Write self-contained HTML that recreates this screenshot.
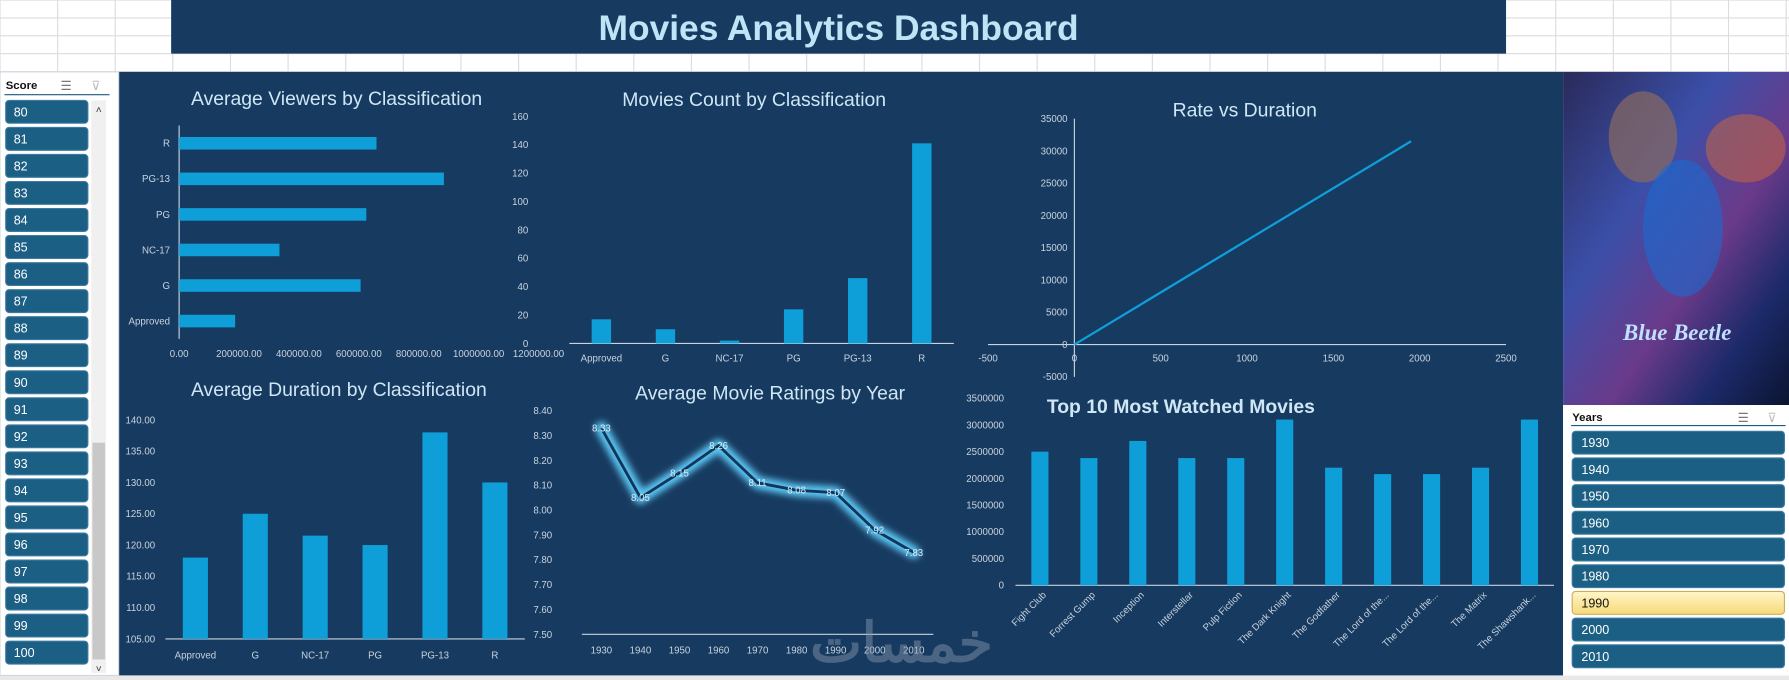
<!DOCTYPE html>
<html><head><meta charset="utf-8"><style>
html,body{margin:0;padding:0;width:1789px;height:680px;overflow:hidden;background:#fff}
svg{display:block;font-family:"Liberation Sans",sans-serif}
</style></head><body>
<svg id="root" width="1789" height="680" viewBox="0 0 1568 596" preserveAspectRatio="none" xmlns="http://www.w3.org/2000/svg">
<defs>
<linearGradient id="poster" x1="0" y1="0" x2="1" y2="1">
<stop offset="0" stop-color="#2a2a5a"/><stop offset="0.35" stop-color="#3b4fa8"/><stop offset="0.6" stop-color="#6a3a8a"/><stop offset="0.8" stop-color="#1c2a6a"/><stop offset="1" stop-color="#0b1430"/></linearGradient>
<linearGradient id="sel" x1="0" y1="0" x2="0" y2="1"><stop offset="0" stop-color="#fff6c8"/><stop offset="1" stop-color="#f7d978"/></linearGradient>
<filter id="glow" x="-20%" y="-20%" width="140%" height="140%"><feGaussianBlur stdDeviation="3"/></filter>
</defs>
<g id="grid"></g>
<rect x="150" y="0" width="1170" height="47" fill="#173a60"/>
<text x="735" y="27" text-anchor="middle" dominant-baseline="middle" font-size="31" font-weight="bold" fill="#bfe4f6">Movies Analytics Dashboard</text>
<rect x="104" y="63" width="1266" height="529" fill="#173a60"/>
<g id="charts"></g>
<text x="790" y="580" text-anchor="middle" font-size="48" font-weight="bold" fill="#8a9bb0" opacity="0.45" font-family="'Liberation Sans','Noto Sans CJK SC',sans-serif">خمسات</text>
<g>
<rect x="1370" y="63" width="198" height="292" fill="url(#poster)"/>
<ellipse cx="1440" cy="120" rx="30" ry="40" fill="#8a6a60" opacity="0.7"/>
<ellipse cx="1475" cy="200" rx="35" ry="60" fill="#1a6ad0" opacity="0.6"/>
<ellipse cx="1530" cy="130" rx="35" ry="30" fill="#d06a3a" opacity="0.5"/>
<text x="1470" y="298" text-anchor="middle" font-size="20" font-style="italic" font-weight="bold" fill="#bfe0ff" font-family="'Liberation Serif',serif">Blue Beetle</text>
</g>
<rect x="0" y="592" width="1568" height="4" fill="#e8e8e8"/>
<g id="slicers"></g>
</svg>
<script>
const NS="http://www.w3.org/2000/svg";
function mk(tag,attrs,parent,text){const e=document.createElementNS(NS,tag);for(const k in attrs)e.setAttribute(k,attrs[k]);if(text!==undefined)e.textContent=text;parent.appendChild(e);return e;}
const grid=document.getElementById('grid');
for(let x=0;x<=1568;x+=50.5){mk('line',{x1:x,y1:0,x2:x,y2:63,stroke:'#dcdcdc'},grid);}
for(let y=0;y<=63;y+=15.7){mk('line',{x1:0,y1:y,x2:1568,y2:y,stroke:'#dcdcdc'},grid);}
const C=document.getElementById('charts');
const AX='#c8d3de', TXT='#c8d3de', BAR='#0f9fd8', TT='#cfe6f5', FS=8.5;
function title(x,y,t,name,bold){const e=mk('text',{x:x,y:y,'text-anchor':'middle','font-size':17,fill:TT,'font-weight':bold?'bold':'normal'},C,t);}

const c1Cats=['Approved','G','NC-17','PG','PG-13','R'];
const c1Vals=[187000,606000,335000,625000,884000,659000];
const c1Ticks=[0,200000,400000,600000,800000,1000000,1200000];
title(295,92,'Average Viewers by Classification','viewers-chart-title');
(function(){const x0=157,x1=472,yT=110,yB=297,max=1200000;const xs=v=>x0+v/max*(x1-x0);const band=(yB-yT)/c1Cats.length;
mk('line',{x1:x0,y1:yT,x2:x0,y2:yB,stroke:AX},C);
c1Cats.forEach((c,i)=>{const yc=yB-band*(i+0.5);const r=mk('rect',{x:x0,y:yc-5.5,width:xs(c1Vals[i])-x0,height:11,fill:BAR},C);

const t=mk('text',{x:x0-8,y:yc+3,'text-anchor':'end','font-size':FS,fill:TXT},C,c);});
c1Ticks.forEach(v=>{const t=mk('text',{x:xs(v),y:313,'text-anchor':'middle','font-size':FS,fill:TXT},C,v.toFixed(2));});})();

const c2Cats=['Approved','G','NC-17','PG','PG-13','R'];
const c2Vals=[17,10,2,24,46,141];
const c2Ticks=[0,20,40,60,80,100,120,140,160];
title(661,93,'Movies Count by Classification','count-chart-title');
(function(){const x0=499,x1=836,yB=301,yT=102,max=160;const ys=v=>yB-v/max*(yB-yT);const band=(x1-x0)/c2Cats.length;
mk('line',{x1:x0,y1:yB,x2:x1,y2:yB,stroke:AX},C);
c2Ticks.forEach(v=>{const t=mk('text',{x:463,y:ys(v)+3,'text-anchor':'end','font-size':FS,fill:TXT},C,v);});
c2Cats.forEach((c,i)=>{const xc=x0+band*(i+0.5);const r=mk('rect',{x:xc-8.5,y:ys(c2Vals[i]),width:17,height:yB-ys(c2Vals[i]),fill:BAR},C);

const t=mk('text',{x:xc,y:317,'text-anchor':'middle','font-size':FS,fill:TXT},C,c);});})();

const c3X=[0,1950];
const c3Y=[0,31500];
const c3YTicks=[-5000,0,5000,10000,15000,20000,25000,30000,35000];
const c3XTicks=[-500,0,500,1000,1500,2000,2500];
title(1091,102,'Rate vs Duration','rate-chart-title');
(function(){const x0=866,x1=1320,xmin=-500,xmax=2500,y0=302,y35=104;const xs=v=>x0+(v-xmin)/(xmax-xmin)*(x1-x0);const ys=v=>y0-v/35000*(y0-y35);
mk('line',{x1:x0,y1:ys(0),x2:x1,y2:ys(0),stroke:AX},C);mk('line',{x1:xs(0),y1:ys(35000),x2:xs(0),y2:ys(-5000),stroke:AX},C);
c3YTicks.forEach(v=>{const t=mk('text',{x:xs(0)-6,y:ys(v)+3,'text-anchor':'end','font-size':FS,fill:TXT},C,v);});
c3XTicks.forEach(v=>{const t=mk('text',{x:xs(v),y:317,'text-anchor':'middle','font-size':FS,fill:TXT},C,v);});
const p=mk('polyline',{points:c3X.map((x,i)=>xs(x)+','+ys(c3Y[i])).join(' '),fill:'none',stroke:BAR,'stroke-width':2},C);})();

const c4Cats=['Approved','G','NC-17','PG','PG-13','R'];
const c4Vals=[118,125,121.5,120,138,130];
const c4Ticks=[105,110,115,120,125,130,135,140];
title(297,347,'Average Duration by Classification','duration-chart-title');
(function(){const x0=145,x1=460,yB=560,yT=368;const ys=v=>yB-(v-105)/35*(yB-yT);const band=(x1-x0)/c4Cats.length;
mk('line',{x1:x0,y1:yB,x2:x1,y2:yB,stroke:AX},C);
c4Ticks.forEach(v=>{const t=mk('text',{x:136,y:ys(v)+3,'text-anchor':'end','font-size':FS,fill:TXT},C,v.toFixed(2));});
c4Cats.forEach((c,i)=>{const xc=x0+band*(i+0.5);const r=mk('rect',{x:xc-11,y:ys(c4Vals[i]),width:22,height:yB-ys(c4Vals[i]),fill:BAR},C);

const t=mk('text',{x:xc,y:577,'text-anchor':'middle','font-size':FS,fill:TXT},C,c);});})();

const c5Years=[1930,1940,1950,1960,1970,1980,1990,2000,2010];
const c5Vals=[8.33,8.05,8.15,8.26,8.11,8.08,8.07,7.92,7.83];
const c5Ticks=[7.5,7.6,7.7,7.8,7.9,8.0,8.1,8.2,8.3,8.4];
title(675,350,'Average Movie Ratings by Year','ratings-chart-title');
(function(){const x0=510,x1=818,yB=556,yT=360;const ys=v=>yB-(v-7.5)/0.9*(yB-yT);const band=(x1-x0)/c5Years.length;const xs=i=>x0+band*(i+0.5);
mk('line',{x1:x0,y1:yB,x2:x1,y2:yB,stroke:AX},C);
c5Ticks.forEach(v=>{const t=mk('text',{x:484,y:ys(v)+3,'text-anchor':'end','font-size':FS,fill:TXT},C,v.toFixed(2));});
c5Years.forEach((y,i)=>{const t=mk('text',{x:xs(i),y:573,'text-anchor':'middle','font-size':FS,fill:TXT},C,y);});
const pts=c5Vals.map((v,i)=>xs(i)+','+ys(v)).join(' ');
mk('polyline',{points:pts,fill:'none',stroke:'#5cc8f5','stroke-width':11,'stroke-linejoin':'round','stroke-linecap':'round',filter:'url(#glow)',opacity:1},C);
const p=mk('polyline',{points:pts,fill:'none',stroke:'#12365a','stroke-width':2.5,'stroke-linejoin':'round'},C);
c5Vals.forEach((v,i)=>{const t=mk('text',{x:xs(i),y:ys(v)+3,'text-anchor':'middle','font-size':FS,fill:'#d8ecf8'},C,v.toFixed(2));});})();

const c6Cats=['Fight Club','Forrest Gump','Inception','Interstellar','Pulp Fiction','The Dark Knight','The Godfather','The Lord of the...','The Lord of the...','The Matrix','The Shawshank...'];
const c6Vals=[2500000,2380000,2700000,2380000,2380000,3100000,2200000,2080000,2080000,2200000,3100000];
const c6Ticks=[0,500000,1000000,1500000,2000000,2500000,3000000,3500000];
title(1035,362,'Top 10 Most Watched Movies','top10-chart-title',true);
(function(){const x0=890,x1=1362,yB=513,yT=349;const ys=v=>yB-v/3500000*(yB-yT);const band=(x1-x0)/c6Cats.length;
mk('line',{x1:x0,y1:yB,x2:x1,y2:yB,stroke:AX},C);
c6Ticks.forEach(v=>{const t=mk('text',{x:880,y:ys(v)+3,'text-anchor':'end','font-size':FS,fill:TXT},C,v);});
c6Cats.forEach((c,i)=>{const xc=x0+band*(i+0.5);const r=mk('rect',{x:xc-7.5,y:ys(c6Vals[i]),width:15,height:yB-ys(c6Vals[i]),fill:BAR},C);

const t=mk('text',{x:xc+6,y:522,'text-anchor':'end','font-size':FS,fill:TXT,transform:'rotate(-45 '+(xc+6)+' 522)'},C,c);});})();

const S=document.getElementById('slicers');
const scores=[];for(let s=80;s<=100;s++)scores.push(s);
const years=[1930,1940,1950,1960,1970,1980,1990,2000,2010];
(function(){
mk('rect',{x:0,y:63,width:104,height:529,fill:'#fff',stroke:'#cfd8e0'},S);
const h=mk('text',{x:5,y:78,'font-size':10,'font-weight':'bold',fill:'#111'},S,'Score');
mk('text',{x:53,y:79,'font-size':11,fill:'#777'},S,'☰');mk('text',{x:80,y:79,'font-size':11,fill:'#bbb'},S,'⊽');
mk('line',{x1:4,y1:83,x2:96,y2:83,stroke:'#1d5a80'},S);
mk('rect',{x:80,y:88,width:13,height:502,fill:'#f0f0f0'},S);mk('rect',{x:81,y:388,width:11,height:190,fill:'#c8c8c8'},S);
mk('text',{x:86.5,y:99,'text-anchor':'middle','font-size':9,fill:'#333'},S,'˄');mk('text',{x:86.5,y:589,'text-anchor':'middle','font-size':9,fill:'#333'},S,'˅');
scores.forEach((s,i)=>{const y=88+i*23.7;const r=mk('rect',{x:5,y:y,width:72,height:20,rx:3,fill:'#1b5f84',stroke:'#3c7aa0'},S);

mk('text',{x:12,y:y+14,'font-size':11,fill:'#fff'},S,s);});
mk('rect',{x:1370,y:355,width:198,height:237,fill:'#fff'},S);
const h2=mk('text',{x:1378,y:369,'font-size':10,'font-weight':'bold',fill:'#111'},S,'Years');
mk('text',{x:1523,y:370,'font-size':11,fill:'#777'},S,'☰');mk('text',{x:1549,y:370,'font-size':11,fill:'#bbb'},S,'⊽');
mk('line',{x1:1377,y1:373,x2:1565,y2:373,stroke:'#1d5a80'},S);
years.forEach((yv,i)=>{const y=378+i*23.4;const sel=yv===1990;const r=mk('rect',{x:1378,y:y,width:186,height:20,rx:3,fill:sel?'url(#sel)':'#1b5f84',stroke:sel?'#c8b060':'#3c7aa0'},S);

mk('text',{x:1386,y:y+14,'font-size':11,fill:sel?'#111':'#fff'},S,yv);});
})();
</script>
</body></html>
